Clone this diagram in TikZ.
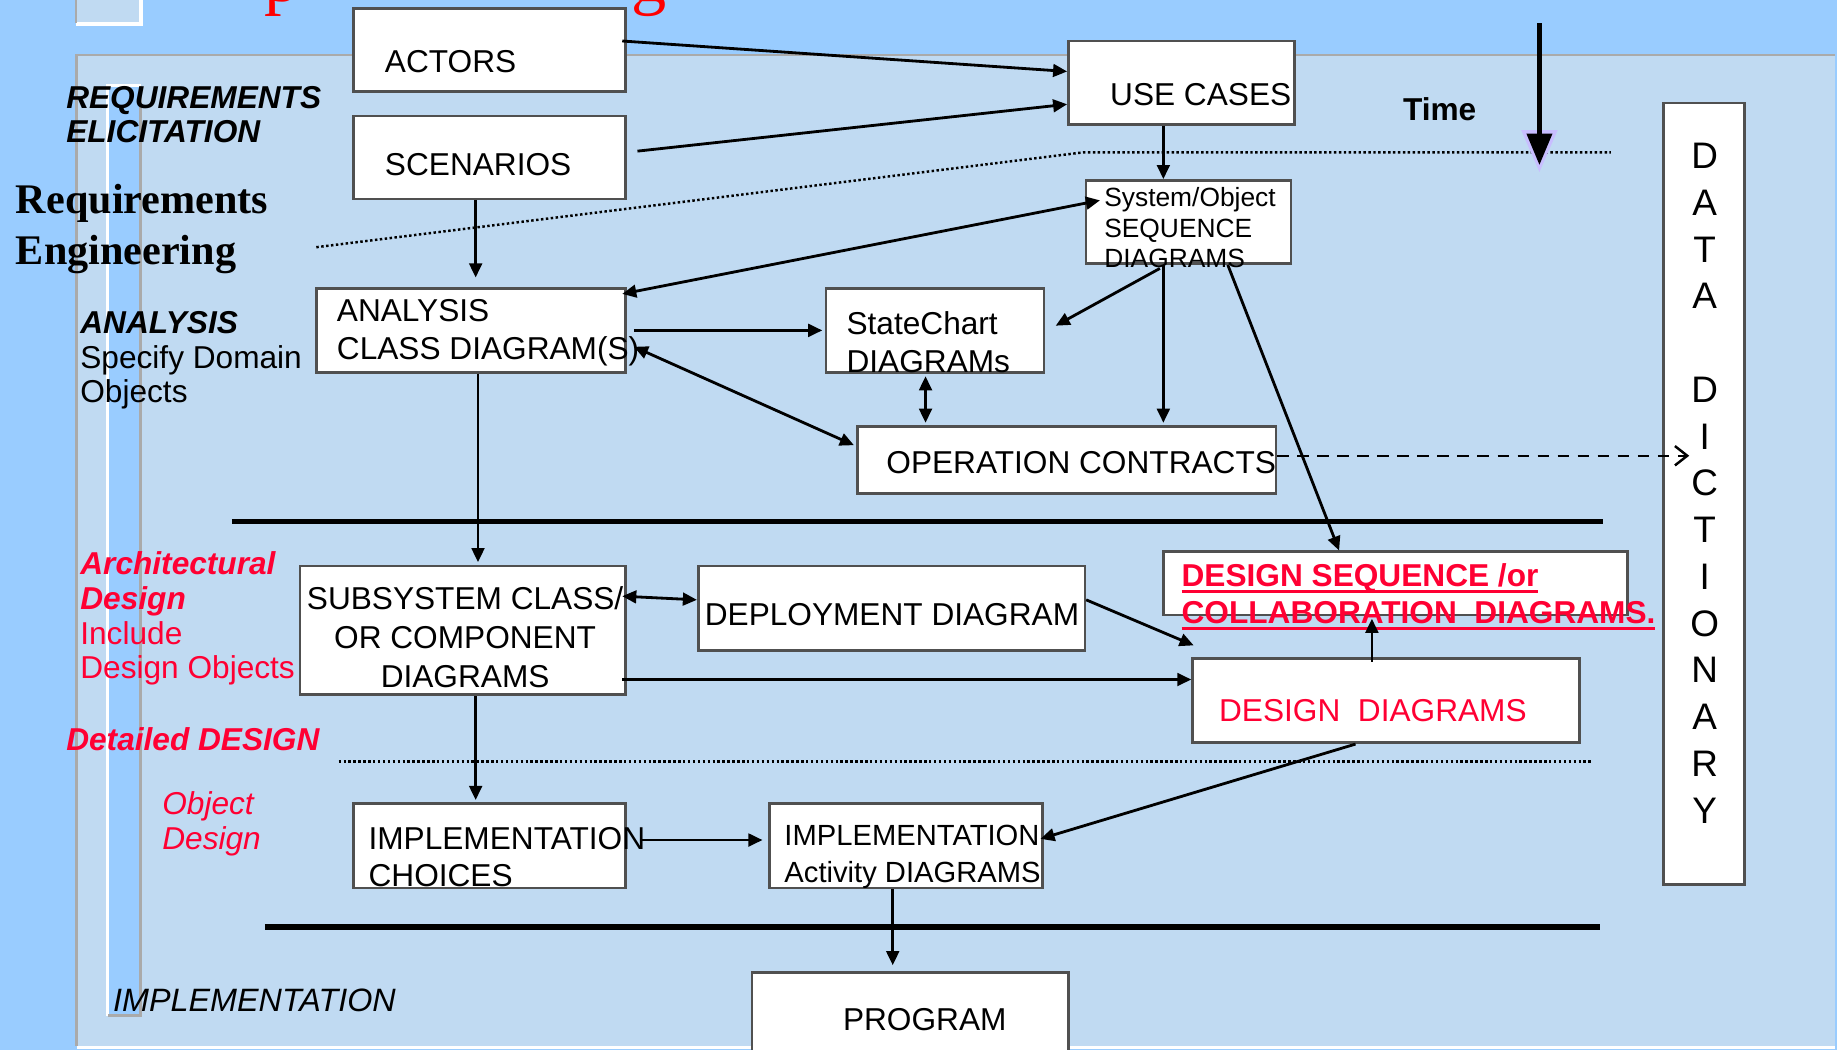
\documentclass[tikz,border=0pt]{standalone}
\usepackage{fontspec}
\setmainfont{Liberation Sans}
\newfontfamily\titleserif{Liberation Serif}
\usepackage{tikz}
\usetikzlibrary{arrows.meta, positioning}
\definecolor{skyblue}{RGB}{153, 204, 255}
\definecolor{panelblue}{RGB}{192, 218, 242}
\definecolor{edgegray}{RGB}{80, 80, 80}
\definecolor{framegray}{RGB}{170, 170, 170}
\definecolor{designred}{RGB}{255, 0, 51}
\definecolor{titlered}{RGB}{255, 0, 0}
\definecolor{glowviolet}{RGB}{200, 190, 255}
\newcommand{\pxu}{0.11716}
\newcommand{\setfs}[2]{\fontsize{#1}{#2}\selectfont}
\newcommand{\ulred}[1]{\setbox0=\hbox{#1}\rlap{\rule[-1.8pt]{\wd0}{0.8pt}}\box0}

\begin{document}
\begin{tikzpicture}[x=\pxu mm, y=-\pxu mm,
  box/.style={draw=edgegray, line width=0.75pt, fill=white, inner sep=0pt},
  wh/.style 2 args={minimum width=#1*\pxu mm, minimum height=#2*\pxu mm},
  lbl/.style={inner sep=0pt, anchor=north west, align=left, font=\setfs{9}{10.7}},
  arr/.style={line width=0.8pt, -{Triangle[length=4pt, width=3.6pt]}},
  biarr/.style={line width=0.8pt, {Triangle[length=4pt, width=3.6pt]}-{Triangle[length=4pt, width=3.6pt]}},
  bar/.style={line width=1.6pt},
  dots/.style={line width=0.7pt, dash pattern=on 0.7pt off 0.7pt}]

  % Slide backdrop
  \useasboundingbox (0,0) rectangle (1568,896);
  \fill[skyblue] (0,0) rectangle (1568,896);
  \fill[panelblue] (65,47) rectangle (1566,893);
  \draw[framegray, line width=0.8pt] (65,893) -- (65,47) -- (1566,47);
  \draw[white, line width=1pt] (66,894) -- (1566,894);
  \fill[panelblue] (65,-1) rectangle (120,20);
  \draw[white, line width=1pt] (65,20.5) -- (120.5,20.5) -- (120.5,-1);
  \draw[framegray, line width=0.6pt] (65,-1) -- (65,20);
  \fill[skyblue] (92,73) rectangle (120,867);
  \draw[white, line width=0.8pt] (92,867) -- (92,73) -- (120,73);
  \draw[framegray, line width=0.8pt] (120,73) -- (120,867) -- (92,867);

  % Title, cut off at the top
  \node[inner sep=0pt, anchor=base west, text=titlered, font=\titleserif\setfs{20}{20}] (titleP) at (225,1) {p};
  \node[inner sep=0pt, anchor=base west, text=titlered, font=\titleserif\setfs{20}{20}] (titleG) at (538,1) {g};

  % Phase separators
  \draw[bar] (198,445) -- (1368,445);
  \draw[bar] (226,791) -- (1366,791);
  \draw[dots] (270,211) -- (925,130) -- (1375,130);
  \draw[dots] (289,650) -- (1358,650);

  % Side labels
  \node[lbl, font=\setfs{9}{9.7}\bfseries\itshape] (elicitT) at (56,73.3) {REQUIREMENTS\\ELICITATION};
  \node[lbl, font=\titleserif\setfs{12}{14.3}\bfseries] (reqengT) at (13,157) {Requirements\\Engineering};
  \node[lbl, font=\setfs{9}{9.8}] (analysisT) at (68,265.3) {\textbf{\textit{ANALYSIS}}\\Specify Domain\\Objects};
  \node[lbl, font=\setfs{9}{9.9}, text=designred] (archT) at (68,470.3) {\textbf{\textit{Architectural}}\\\textbf{\textit{Design}}\\Include\\Design Objects};
  \node[lbl, font=\setfs{9}{9.8}\bfseries\itshape, text=designred] (detailT) at (56,620.3) {Detailed DESIGN};
  \node[lbl, font=\setfs{9}{10}\itshape, text=designred] (objdesT) at (138,675.3) {Object\\Design};
  \node[lbl, font=\setfs{9.2}{10}\itshape] (implT) at (96,843.3) {IMPLEMENTATION};
  \node[lbl, font=\setfs{9}{10}\bfseries] (timeT) at (1197,82.3) {Time};

  % Boxes
  \node[box, wh={232}{71}] (actors) at (418,42.5) {};
  \node[box, wh={232}{71}] (scen) at (418,134.5) {};
  \node[box, wh={193}{71}] (usecases) at (1008.5,70.5) {};
  \node[box, wh={175}{71}] (sysobj) at (1014.5,189.5) {};
  \node[box, wh={264}{72}] (analysis) at (402,282) {};
  \node[box, wh={186}{72}] (statechart) at (798,282) {};
  \node[box, wh={357}{57}] (opc) at (910.5,392.5) {};
  \node[box, wh={278}{110}] (subsys) at (395,538) {};
  \node[box, wh={330}{72}] (deploy) at (761,519) {};
  \node[box, wh={396}{54}] (dseq) at (1191,498) {};
  \node[box, wh={330}{72}] (ddiag) at (1183,598) {};
  \node[box, wh={232}{72}] (implch) at (418,722) {};
  \node[box, wh={233}{72}] (implact) at (773.5,722) {};
  \node[box, wh={270}{80}] (program) at (777,870) {};
  \node[box, wh={69}{667}] (dd) at (1454.5,421.5) {};

  % Box texts
  \node[lbl] (actorsT) at (328,42.3) {ACTORS};
  \node[lbl] (scenT) at (328,130.3) {SCENARIOS};
  \node[lbl] (usecasesT) at (947,70.3) {USE CASES};
  \node[lbl, font=\setfs{7.5}{8.8}] (sysobjT) at (942,159) {System/Object\\SEQUENCE\\DIAGRAMS};
  \node[lbl] (analysisBT) at (287,255.3) {ANALYSIS\\CLASS DIAGRAM(S)};
  \node[lbl] (stateT) at (722,265.3) {StateChart\\DIAGRAMs};
  \node[lbl] (opcT) at (756,384.3) {OPERATION CONTRACTS};
  \node[lbl, anchor=north, align=center, font=\setfs{9}{11}] (subsysT) at (397,500.3) {SUBSYSTEM CLASS/\\OR COMPONENT\\DIAGRAMS};
  \node[lbl] (deployT) at (601,514.3) {DEPLOYMENT DIAGRAM};
  \node[lbl, font=\setfs{9}{10.7}\bfseries, text=designred] (dseqT) at (1008,480.3) {\ulred{DESIGN SEQUENCE /or}\\\ulred{COLLABORATION\ \ DIAGRAMS.}};
  \node[lbl, text=designred] (ddiagT) at (1040,596.3) {DESIGN\ \ DIAGRAMS};
  \node[lbl, font=\setfs{9}{10.7}] (implchT) at (314,705.3) {IMPLEMENTATION\\CHOICES};
  \node[lbl, font=\setfs{8.3}{10.3}] (implactT) at (669,704) {IMPLEMENTATION\\Activity DIAGRAMS};
  \node[lbl] (programT) at (719,860.3) {PROGRAM};
  \node[lbl, anchor=north, align=center, font=\setfs{10.5}{13.3}] (ddT) at (1455,121.7) {D\\A\\T\\A\\[13.3pt]D\\I\\C\\T\\I\\O\\N\\A\\R\\Y};

  % Flow between the models
  \draw[arr] ([shift={(-4,-7.5)}]actors.east) -- ([shift={(0,-9.5)}]usecases.west);
  \draw[arr] ([shift={(9,-5.5)}]scen.east) -- ([shift={(0,18.5)}]usecases.west);
  \draw[arr] ([shift={(-15.5,0)}]usecases.south) -- ([shift={(-21.5,0)}]sysobj.north);
  \draw[arr] ([shift={(-12,0)}]scen.south) -- ([shift={(4,-8)}]analysis.north);
  \draw[biarr] ([shift={(-4,6)}]analysis.north east) -- ([shift={(13,-18.5)}]sysobj.west);
  \draw[arr] ([shift={(6,0)}]analysis.east) -- ([shift={(-2,0)}]statechart.west);
  \draw[arr] ([shift={(-24.5,3)}]sysobj.south) -- ([shift={(9,-4)}]statechart.east);
  \draw[biarr] ([shift={(-8,2)}]statechart.south) -- ([shift={(-120.5,-2)}]opc.north);
  \draw[biarr] ([shift={(6,14)}]analysis.east) -- ([shift={(-2,-12.5)}]opc.west);
  \draw[arr] ([shift={(-21.5,0)}]sysobj.south) -- ([shift={(82.5,-2)}]opc.north);
  \draw[arr] ([shift={(33.5,0)}]sysobj.south) -- ([shift={(-48,0)}]dseq.north);
  \draw[arr] ([shift={(6,0)}]analysis.south) -- ([shift={(13,-2)}]subsys.north);
  \draw[biarr] ([shift={(-4,27)}]subsys.north east) -- ([shift={(0,-7)}]deploy.west);
  \draw[arr] ([shift={(0,-7)}]deploy.east) -- ([shift={(2,-10)}]ddiag.north west);
  \draw[arr] ([shift={(-4,42)}]subsys.east) -- ([shift={(0,-18)}]ddiag.west);
  \draw[arr] ([shift={(-12,4)}]ddiag.north) -- ([shift={(-20,2)}]dseq.south);
  \draw[arr] ([shift={(11,0)}]subsys.south) -- ([shift={(-12,-2)}]implch.north);
  \draw[arr] ([shift={(11,-5)}]implch.east) -- ([shift={(-5,-5)}]implact.west);
  \draw[arr] ([shift={(-26,0)}]ddiag.south) -- ([shift={(-3,-6)}]implact.east);
  \draw[arr] ([shift={(-11.5,0)}]implact.south) -- ([shift={(-15,-5)}]program.north);

  % Contracts go to the data dictionary
  \draw[line width=0.7pt, dash pattern=on 3.3pt off 2.4pt, -{Straight Barb[length=3.5pt, width=5.5pt]}] ([shift={(0,-3.5)}]opc.east) -- ([shift={(23,-32.5)}]dd.west);

  % Time axis
  \coordinate (timeTop) at (1314,20);
  \coordinate (timeTip) at (1314,141);
  \draw[glowviolet, line width=1.5pt, -{Triangle[length=12pt, width=10pt]}] (timeTop) -- ([shift={(0,6)}]timeTip);
  \draw[line width=1.5pt, -{Triangle[length=9pt, width=7pt]}] (timeTop) -- (timeTip);
\end{tikzpicture}
\end{document}
